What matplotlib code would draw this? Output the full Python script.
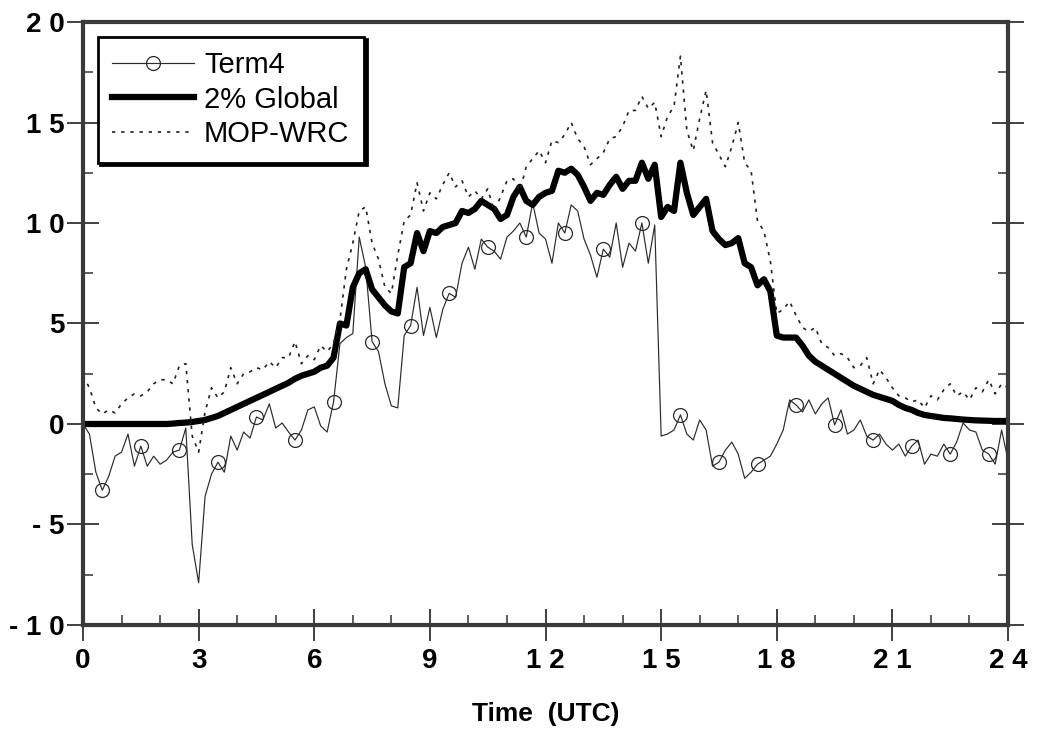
import numpy as np
import matplotlib.pyplot as plt
from matplotlib.ticker import FixedLocator, FixedFormatter, MultipleLocator

# 10-minute samples from 0 to 24 UTC (6 per hour, plus the 24:00 value)
time_utc = np.arange(145) / 6.0

term4 = [
    0.0, -0.5, -2.4, -3.3, -2.6, -1.6,
    -1.4, -0.5, -2.1, -1.1, -2.1, -1.6,
    -2.0, -1.8, -1.4, -1.3, -0.2, -6.0,
    -7.9, -3.6, -2.5, -1.9, -2.4, -0.6,
    -1.3, -0.4, -0.7, 0.35, 0.2, 1.0,
    -0.2, 0.05, -0.4, -0.8, -0.3, 0.7,
    0.85, -0.1, -0.4, 1.1, 4.0, 4.3,
    4.5, 9.3, 7.8, 4.1, 3.6, 2.0,
    0.9, 0.8, 4.4, 4.9, 6.8, 4.4,
    5.8, 4.3, 5.7, 6.5, 6.3, 8.0,
    8.8, 7.7, 9.2, 8.8, 8.6, 8.2,
    9.3, 9.6, 10.0, 9.3, 11.0, 9.5,
    9.2, 8.0, 10.0, 9.5, 10.9, 10.6,
    9.2, 8.4, 7.3, 8.7, 8.3, 10.0,
    7.8, 9.0, 8.6, 10.0, 8.0, 9.9,
    -0.6, -0.5, -0.3, 0.45, -0.5, -0.8,
    0.2, -0.3, -2.1, -1.9, -1.3, -0.9,
    -1.5, -2.7, -2.4, -2.0, -1.8, -1.6,
    -1.0, -0.3, 1.2, 0.95, 0.6, 1.2,
    0.5, 1.0, 1.3, -0.05, 0.7, -0.5,
    -0.3, 0.2, -0.6, -0.8, -0.5, -1.0,
    -1.3, -1.0, -1.6, -1.1, -0.8, -2.0,
    -1.5, -1.6, -1.0, -1.5, -0.9, 0.05,
    -0.3, -0.4, -1.3, -1.5, -2.0, -0.3,
    -1.8,
]

global_2pct = [
    0.0, 0.0, 0.0, 0.0, 0.0, 0.0,
    0.0, 0.0, 0.0, 0.0, 0.0, 0.0,
    0.0, 0.0, 0.02, 0.05, 0.07, 0.1,
    0.15, 0.2, 0.3, 0.4, 0.55, 0.7,
    0.85, 1.0, 1.15, 1.3, 1.45, 1.6,
    1.75, 1.9, 2.05, 2.25, 2.4, 2.5,
    2.6, 2.8, 2.9, 3.3, 5.0, 4.9,
    6.8, 7.5, 7.7, 6.7, 6.3, 5.9,
    5.6, 5.5, 7.8, 8.0, 9.5, 8.6,
    9.6, 9.5, 9.8, 9.9, 10.0, 10.6,
    10.5, 10.7, 11.1, 10.9, 10.7, 10.2,
    10.4, 11.3, 11.8, 11.1, 10.9, 11.3,
    11.5, 11.6, 12.6, 12.5, 12.7, 12.4,
    11.8, 11.1, 11.5, 11.4, 11.9, 12.3,
    11.7, 12.1, 12.1, 13.0, 12.2, 12.9,
    10.3, 10.8, 10.6, 13.0, 11.5, 10.4,
    10.8, 11.2, 9.6, 9.2, 8.9, 9.0,
    9.25, 8.0, 7.8, 6.9, 7.2, 6.6,
    4.4, 4.3, 4.3, 4.3, 3.9, 3.4,
    3.1, 2.9, 2.7, 2.5, 2.3, 2.1,
    1.9, 1.75, 1.6, 1.45, 1.35, 1.25,
    1.15, 0.95, 0.8, 0.7, 0.55, 0.45,
    0.4, 0.35, 0.3, 0.28, 0.25, 0.22,
    0.2, 0.18, 0.17, 0.16, 0.15, 0.15,
    0.15,
]

mop_wrc = [
    2.4, 1.8, 0.8, 0.5, 0.7, 0.55,
    1.0, 1.3, 1.5, 1.4, 1.6, 2.0,
    2.2, 2.2, 2.0, 2.9, 3.0, -0.6,
    -1.4, 0.6, 1.8, 1.3, 1.6, 2.8,
    2.0, 2.5, 2.6, 2.8, 2.7, 3.1,
    2.8, 3.3, 3.3, 4.1, 3.0, 3.4,
    3.2, 3.9, 3.6, 4.0, 5.2, 7.7,
    9.0, 10.6, 10.8, 9.0, 8.2, 6.8,
    6.5, 8.4, 10.1, 10.4, 12.0, 10.6,
    11.5, 11.2, 11.9, 12.5, 11.8, 12.1,
    11.3, 11.6, 11.2, 11.7, 10.6, 11.3,
    12.1, 12.2, 11.6, 12.8, 13.2, 13.6,
    13.0, 14.1, 14.0, 14.4, 15.0, 14.2,
    13.8, 12.9, 13.2, 13.5, 14.2, 14.3,
    14.8, 15.6, 15.6, 16.3, 15.7, 16.0,
    14.3, 15.3, 15.8, 18.3, 14.6, 13.6,
    15.2, 16.6, 14.0, 13.4, 12.8, 13.8,
    15.0, 13.0, 12.6, 10.1, 9.6, 8.1,
    5.5, 5.7, 6.1, 5.4, 4.8, 4.6,
    4.8, 4.0, 3.8, 3.4, 3.5, 3.3,
    2.8, 2.9, 3.3, 2.0, 2.7, 2.3,
    1.8, 1.4, 1.3, 1.1, 1.2, 0.8,
    1.4, 1.2, 1.7, 2.0, 1.4, 1.6,
    1.2, 1.8, 1.6, 2.2, 1.5, 2.0,
    1.8,
]

x_ticks = [0, 3, 6, 9, 12, 15, 18, 21, 24]
x_tick_labels = ["0", "3", "6", "9", "1 2", "1 5", "1 8", "2 1", "2 4"]
y_ticks = [-10, -5, 0, 5, 10, 15, 20]
y_tick_labels = ["- 1 0", "- 5", "0", "5", "1 0", "1 5", "2 0"]

plt.rcParams['font.family'] = ['Liberation Sans', 'DejaVu Sans']

fig = plt.figure(figsize=(10.39, 7.29), dpi=100)
ax = fig.add_axes([0.0799, 0.1427, 0.8903, 0.8271])

ax.plot(time_utc, term4, color='#2a2a2a', lw=0.85, marker='o', markersize=10,
        markerfacecolor='none', markeredgecolor='#2a2a2a', markeredgewidth=0.9,
        markevery=(3, 6), label='Term4')
ax.plot(time_utc, global_2pct, color='black', lw=4.5, label='2% Global')
ax.plot(time_utc, mop_wrc, color='#222222', lw=1.2, linestyle=(0, (2, 3.5)),
        label='MOP-WRC')

ax.set_xlim(0, 24)
ax.set_ylim(-10, 20)

ax.xaxis.set_major_locator(FixedLocator(x_ticks))
ax.xaxis.set_major_formatter(FixedFormatter(x_tick_labels))
ax.xaxis.set_minor_locator(MultipleLocator(1))
ax.yaxis.set_major_locator(FixedLocator(y_ticks))
ax.yaxis.set_major_formatter(FixedFormatter(y_tick_labels))
ax.yaxis.set_minor_locator(MultipleLocator(2.5))

for side in ['left', 'right', 'top', 'bottom']:
    ax.spines[side].set_linewidth(3)
    ax.spines[side].set_color('#3a3a3a')

ax.tick_params(axis='both', which='major', direction='inout', length=23, width=1.3,
               color='#333333', labelsize=20, right=True, top=False)
ax.tick_params(axis='both', which='minor', direction='in', length=7, width=1.1,
               color='#333333', right=True, top=False)
ax.tick_params(axis='x', which='major', pad=5)
ax.tick_params(axis='y', which='major', pad=2)
for lbl in ax.get_xticklabels() + ax.get_yticklabels():
    lbl.set_fontweight('bold')

ax.set_xlabel("Time  (UTC)", fontsize=19, fontweight='bold', labelpad=20)

leg = ax.legend(loc='upper left', bbox_to_anchor=(0.0, 1.0), borderaxespad=0.5,
                fontsize=21, frameon=True, fancybox=False,
                shadow={'color': 'black', 'alpha': 1.0},
                handlelength=2.8, handletextpad=0.35, labelspacing=0.22,
                borderpad=0.5)
leg.get_frame().set_edgecolor('black')
leg.get_frame().set_linewidth(2)
leg.get_frame().set_alpha(1.0)

fig.savefig('out.png', dpi=100)
